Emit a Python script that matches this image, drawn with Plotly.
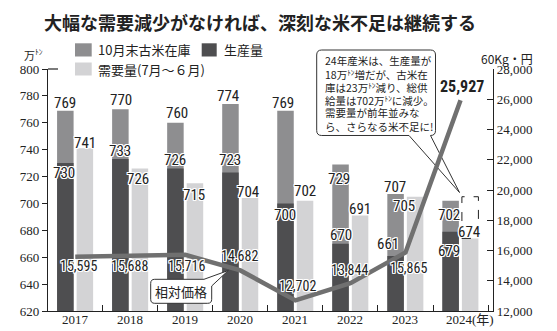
import plotly.graph_objects as go

# ---------------- data ----------------
years = ["2017", "2018", "2019", "2020", "2021", "2022", "2023", "2024"]
supply = [769, 770, 760, 774, 769, 729, 707, 702]          # top of stacked bar (生産量 + 10月末古米在庫)
production = [730, 733, 726, 723, 700, 670, 661, 679]      # 生産量
demand = [741, 726, 715, 704, 702, 691, 705, 674]          # 需要量(7月～6月)
price = [15595, 15688, 15716, 14682, 12702, 13844, 15865, 25927]  # 相対価格 (60kg・円)
left_ticks = [620, 640, 660, 680, 700, 720, 740, 760, 780, 800]
right_ticks = [12000, 14000, 16000, 18000, 20000, 22000, 24000, 26000, 28000]
series_names = ["10月末古米在庫", "生産量", "需要量(7月～６月)"]
price_name = "相対価格"
title_text = "大幅な需要減少がなければ、深刻な米不足は継続する"
note_lines = [
    "24年産米は、生産量が",
    "18万<sup>ﾄﾝ</sup>増だが、古米在",
    "庫は23万<sup>ﾄﾝ</sup>減り、総供",
    "給量は702万<sup>ﾄﾝ</sup>に減少。",
    "需要量が前年並みな",
    "ら、さらなる米不足に!",
]

# ---------------- styles ----------------
MED = "#8e8e90"
DARK = "#4e4e50"
LIGHT = "#d3d3d5"
LINE = "#707070"
INK = "#222222"
SERIF = "Liberation Serif, Noto Sans CJK JP, serif"
CJK = "Noto Sans CJK JP"
NARROW = "Liberation Sans Narrow, Roboto Condensed, Roboto, sans-serif"
HALO = ("1px 0 0 #fff, -1px 0 0 #fff, 0 1px 0 #fff, 0 -1px 0 #fff, "
        "1px 1px 0 #fff, -1px -1px 0 #fff, 1px -1px 0 #fff, -1px 1px 0 #fff")

PW, PH = 557, 331
ML, MR, MT, MB = 48, 64, 69, 20
AW, AH = PW - ML - MR, PH - MT - MB


def px(x):
    return (x - ML) / AW


def py(y):
    return (PH - MB - y) / AH


DARK_OFF, BAR_W, LIGHT_OFF = -0.33, 0.3, 0.025
DARK_C = DARK_OFF + BAR_W / 2
LIGHT_C = LIGHT_OFF + BAR_W / 2

# label offsets (px): (dx, dy up)
supply_off = [(0, 7.6), (0.7, 9), (1.4, 10), (-2.3, 8.4), (-3, 7.2), (-1.7, -14.3), (-0.6, 7), (-1.6, -14)]
prod_off = [(-1.3, -10), (-0.3, 8), (-0.3, 8.7), (0, 12.8), (-0.6, -11.3), (0.3, 8.7), (-7.3, 11.4), (-1.6, -19.2)]
demand_off = [(0.2, 5.8), (-1.8, -10.2), (-1.1, -11.5), (-1.8, 6.3), (0.2, 9.7), (0, 6.8), (-10.8, -8.8), (-0.8, 6.7)]
price_off = [(2.8, -9.6), (-1.2, -10.7), (1.5, -11.4), (-0.5, 14.2), (2.3, 14.4), (-1.2, 13.1), (3.1, -15.4), (1.1, 13.4)]

fig = go.Figure()
fig.add_trace(go.Bar(x=years, y=supply, name=series_names[0], offset=DARK_OFF, width=BAR_W,
                     marker=dict(color=MED, line=dict(width=0))))
fig.add_trace(go.Bar(x=years, y=production, name=series_names[1], offset=DARK_OFF, width=BAR_W,
                     marker=dict(color=DARK, line=dict(width=0))))
fig.add_trace(go.Bar(x=years, y=demand, name=series_names[2], offset=LIGHT_OFF, width=BAR_W,
                     marker=dict(color=LIGHT, line=dict(width=0))))
fig.add_trace(go.Scatter(x=years, y=price, name=price_name, yaxis="y2", mode="lines",
                         line=dict(color=LINE, width=4.5)))

ann = []
lab_font = dict(family=NARROW, size=15, color=INK, shadow=HALO)
for i in range(len(years)):
    for vals, offs, c in ((supply, supply_off, DARK_C), (production, prod_off, DARK_C),
                          (demand, demand_off, LIGHT_C)):
        ann.append(dict(x=i + c, y=vals[i], xref="x", yref="y", text=str(vals[i]),
                        showarrow=False, xanchor="center", yanchor="middle",
                        xshift=offs[i][0], yshift=offs[i][1], font=lab_font))
    last = i == len(years) - 1
    ann.append(dict(x=i, y=price[i], xref="x", yref="y2", text=f"{price[i]:,}",
                    showarrow=False, xanchor="center", yanchor="middle",
                    xshift=price_off[i][0], yshift=price_off[i][1],
                    font=(dict(family=NARROW, size=16, color=INK, weight="bold") if last
                          else dict(family=NARROW, size=14, color=INK, shadow=HALO))))
    # year labels under the axis
    ann.append(dict(x=i, y=py(319.5), xref="x", yref="paper", text=years[i],
                    showarrow=False, xanchor="center", yanchor="middle", xshift=-1.5 if last else 0,
                    font=dict(family=SERIF, size=13, color=INK)))

# title
ann.append(dict(x=px(260), y=py(21.7), xref="paper", yref="paper", text=f"<b>{title_text}</b>",
                showarrow=False, xanchor="center", yanchor="middle",
                font=dict(family=CJK, size=18, color=INK)))
# unit labels
ann.append(dict(x=px(22), y=py(54.5), xref="paper", yref="paper", text="万<sup>ﾄﾝ</sup>",
                showarrow=False, xanchor="left", yanchor="middle",
                font=dict(family=CJK, size=11, color=INK)))
ann.append(dict(x=px(479), y=py(58.3), xref="paper", yref="paper", text="60Kg・円",
                showarrow=False, xanchor="left", yanchor="middle",
                font=dict(family=CJK, size=12, color=INK)))
ann.append(dict(x=px(470), y=py(319.5), xref="paper", yref="paper", text="(年)",
                showarrow=False, xanchor="left", yanchor="middle",
                font=dict(family=SERIF, size=13, color=INK)))

# legend (manual)
shapes = []
leg = [((75, 43.3, 91.7, 56.5), MED, 96, 50, series_names[0]),
       ((201.7, 43.3, 216.7, 56.5), DARK, 221.7, 50, series_names[1]),
       ((75, 62.5, 91.7, 75.5), LIGHT, 96, 69, series_names[2])]
for (x0, y0, x1, y1), col, tx, ty, name in leg:
    shapes.append(dict(type="rect", xref="paper", yref="paper", x0=px(x0), x1=px(x1),
                       y0=py(y1), y1=py(y0), fillcolor=col, line=dict(width=0)))
    ann.append(dict(x=px(tx), y=py(ty), xref="paper", yref="paper", text=name,
                    showarrow=False, xanchor="left", yanchor="middle",
                    font=dict(family=CJK, size=13, color=INK)))


def P(x, y):
    return f"{px(x):.5f},{py(y):.5f}"


# big callout
x0, y0, x1, y1, r = 316.7, 50, 435.5, 135.5, 5
big = (f"M {P(x0 + r, y0)} L {P(x1 - r, y0)} Q {P(x1, y0)} {P(x1, y0 + r)} "
       f"L {P(x1, y1 - r)} Q {P(x1, y1)} {P(x1 - r, y1)} L {P(459.5, 192.5)} L {P(409, y1)} "
       f"L {P(x0 + r, y1)} Q {P(x0, y1)} {P(x0, y1 - r)} L {P(x0, y0 + r)} Q {P(x0, y0)} {P(x0 + r, y0)} Z")
shapes.append(dict(type="path", xref="paper", yref="paper", path=big, fillcolor="white",
                   line=dict(color="#333333", width=1), layer="below"))
for k, line in enumerate(note_lines):
    ann.append(dict(x=px(322.5), y=py(60.7 + 13.06 * k), xref="paper", yref="paper", text=line,
                    showarrow=False, xanchor="left", yanchor="middle",
                    font=dict(family=CJK, size=10.5, color=INK)))

# small callout 相対価格
x0, y0, x1, y1, r = 150.7, 279.3, 211.7, 303.3, 4
small = (f"M {P(x0 + r, y0)} L {P(204, y0)} L {P(228.3, 270.5)} L {P(x1, 286)} "
         f"L {P(x1, y1 - r)} Q {P(x1, y1)} {P(x1 - r, y1)} L {P(x0 + r, y1)} "
         f"Q {P(x0, y1)} {P(x0, y1 - r)} L {P(x0, y0 + r)} Q {P(x0, y0)} {P(x0 + r, y0)} Z")
shapes.append(dict(type="path", xref="paper", yref="paper", path=small, fillcolor="white",
                   line=dict(color="#333333", width=1), layer="above"))
ann.append(dict(x=px(181.2), y=py(291.3), xref="paper", yref="paper", text=price_name,
                showarrow=False, xanchor="center", yanchor="middle",
                font=dict(family=CJK, size=13, color=INK)))

# dashed box: 2024 demand if equal to previous year
n = len(years) - 1
shapes.append(dict(type="rect", xref="x", yref="y", x0=n + LIGHT_OFF, x1=n + LIGHT_OFF + BAR_W,
                   y0=demand[n], y1=demand[n - 1], line=dict(color=INK, width=1, dash="dash"),
                   fillcolor="rgba(0,0,0,0)"))
# top cap of left axis
shapes.append(dict(type="line", xref="paper", yref="paper", x0=0, x1=px(58), y0=1, y1=1,
                   line=dict(color=INK, width=1.2)))

fig.update_layout(
    width=PW, height=PH, margin=dict(l=ML, r=MR, t=MT, b=MB, autoexpand=False),
    paper_bgcolor="white", plot_bgcolor="white",
    barmode="overlay", showlegend=False,
    annotations=ann, shapes=shapes,
    xaxis=dict(type="category", range=[-0.495, 7.59], tickson="boundaries", ticks="inside",
               ticklen=6, tickcolor=INK, tickwidth=1.2, showline=True, linecolor=INK, linewidth=1.2,
               showgrid=False, zeroline=False, showticklabels=False, automargin=False),
    yaxis=dict(range=[620, 800], tickvals=left_ticks, ticks="outside", ticklen=5, tickcolor=INK,
               tickwidth=1.2, showline=True, linecolor=INK, linewidth=1.2, showgrid=False,
               zeroline=False, automargin=False, tickfont=dict(family=SERIF, size=13, color=INK)),
    yaxis2=dict(range=[12000, 28000], tickvals=right_ticks, tickformat=",", overlaying="y",
                side="right", ticks="inside", ticklen=6, tickcolor=INK, tickwidth=1.2,
                showline=True, linecolor=INK, linewidth=1.2, showgrid=False, zeroline=False,
                automargin=False, tickfont=dict(family=SERIF, size=13, color=INK)),
)

fig.write_html("out.html")
